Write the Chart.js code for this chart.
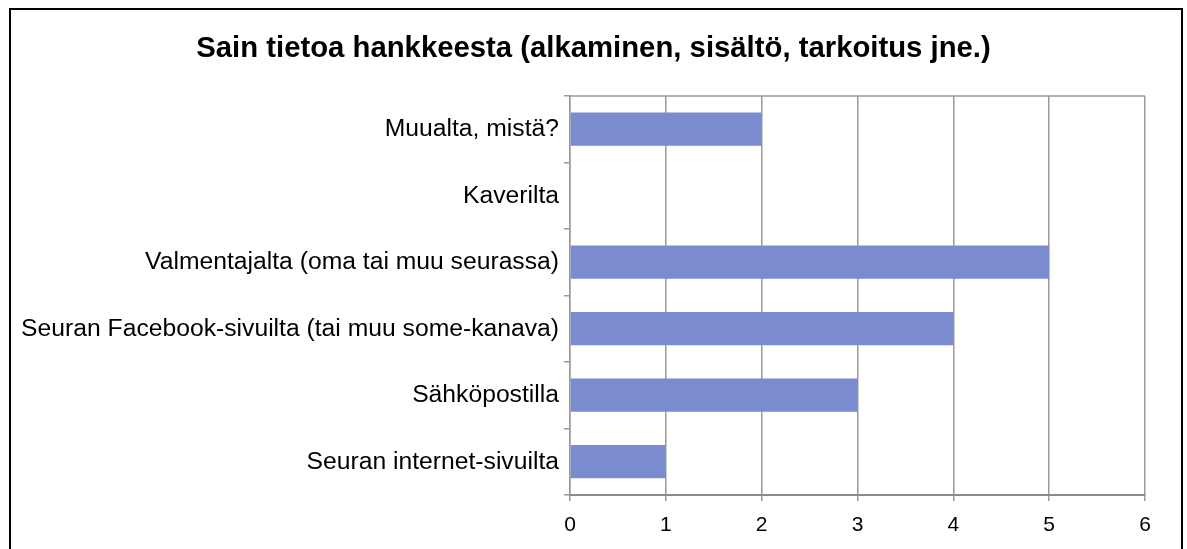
<!DOCTYPE html>
<html>
<head>
<meta charset="utf-8">
<script src="https://cdn.jsdelivr.net/npm/chart.js@4.4.1/dist/chart.umd.min.js"></script>
<style>
  html,body{margin:0;padding:0;background:#fff;}
  #wrap{width:1187px;height:549px;position:relative;}
</style>
</head>
<body>
<div id="wrap"><canvas id="c" width="1187" height="549"></canvas></div>
<script>
// --- data ---
const categories = [
  "Muualta, mistä?",
  "Kaverilta",
  "Valmentajalta (oma tai muu seurassa)",
  "Seuran Facebook-sivuilta (tai muu some-kanava)",
  "Sähköpostilla",
  "Seuran internet-sivuilta"
];
const counts = [2, 0, 5, 4, 3, 1];
const xTicks = [0, 1, 2, 3, 4, 5, 6];
const title = "Sain tietoa hankkeesta (alkaminen, sisältö, tarkoitus jne.)";

const FONT = "'Liberation Sans', Arial, sans-serif";
const GRID = '#9a9a9a';

// outer frame + top edge of plot area
const frame = {
  id: 'frame',
  beforeDraw(chart){
    const ctx = chart.ctx;
    ctx.save();
    ctx.fillStyle = '#fff';
    ctx.fillRect(0,0,chart.width,chart.height);
    ctx.strokeStyle = '#000';
    ctx.lineWidth = 2;
    ctx.beginPath();
    ctx.moveTo(10, 560); ctx.lineTo(10, 9); ctx.lineTo(1182, 9); ctx.lineTo(1182, 560);
    ctx.stroke();
    ctx.restore();
  },
  afterDatasetsDraw(chart){
    const a = chart.chartArea, ctx = chart.ctx;
    ctx.save();
    ctx.strokeStyle = GRID;
    ctx.lineWidth = 1.5;
    ctx.beginPath();
    ctx.moveTo(a.left, a.top); ctx.lineTo(a.right, a.top);
    ctx.stroke();
    ctx.restore();
  }
};

new Chart(document.getElementById('c'), {
  type: 'bar',
  data: {
    labels: categories,
    datasets: [{
      data: counts,
      backgroundColor: '#7b8bd0',
      borderWidth: 0,
      categoryPercentage: 1,
      barPercentage: 0.5
    }]
  },
  options: {
    indexAxis: 'y',
    responsive: false,
    animation: false,
    layout: {padding: {left: 10, right: 10, top: 0, bottom: 0}},
    plugins: {
      legend: {display: false},
      tooltip: {enabled: false},
      title: {
        display: true,
        text: title,
        color: '#000',
        font: {family: FONT, size: 29.3, weight: 'bold', lineHeight: 1.2},
        padding: {top: 31, bottom: 29.8}
      }
    },
    scales: {
      x: {
        min: 0, max: 6,
        afterBuildTicks(s){ s.ticks = xTicks.map(v => ({value: v})); },
        afterFit(s){ s.height = 54; s.paddingRight = 42; },
        grid: {color: GRID, lineWidth: 1.5, tickLength: 6, drawOnChartArea: true},
        border: {color: '#8a8a8a', width: 2},
        ticks: {color: '#000', font: {family: FONT, size: 21}, padding: 12}
      },
      y: {
        afterFit(s){ s.width = 560; },
        grid: {color: GRID, lineWidth: 1.5, offset: true, drawOnChartArea: false, tickLength: 6},
        border: {color: GRID, width: 1.5},
        ticks: {color: '#000', font: {family: FONT, size: 24.7}, padding: 5}
      }
    }
  },
  plugins: [frame]
});
</script>
</body>
</html>
